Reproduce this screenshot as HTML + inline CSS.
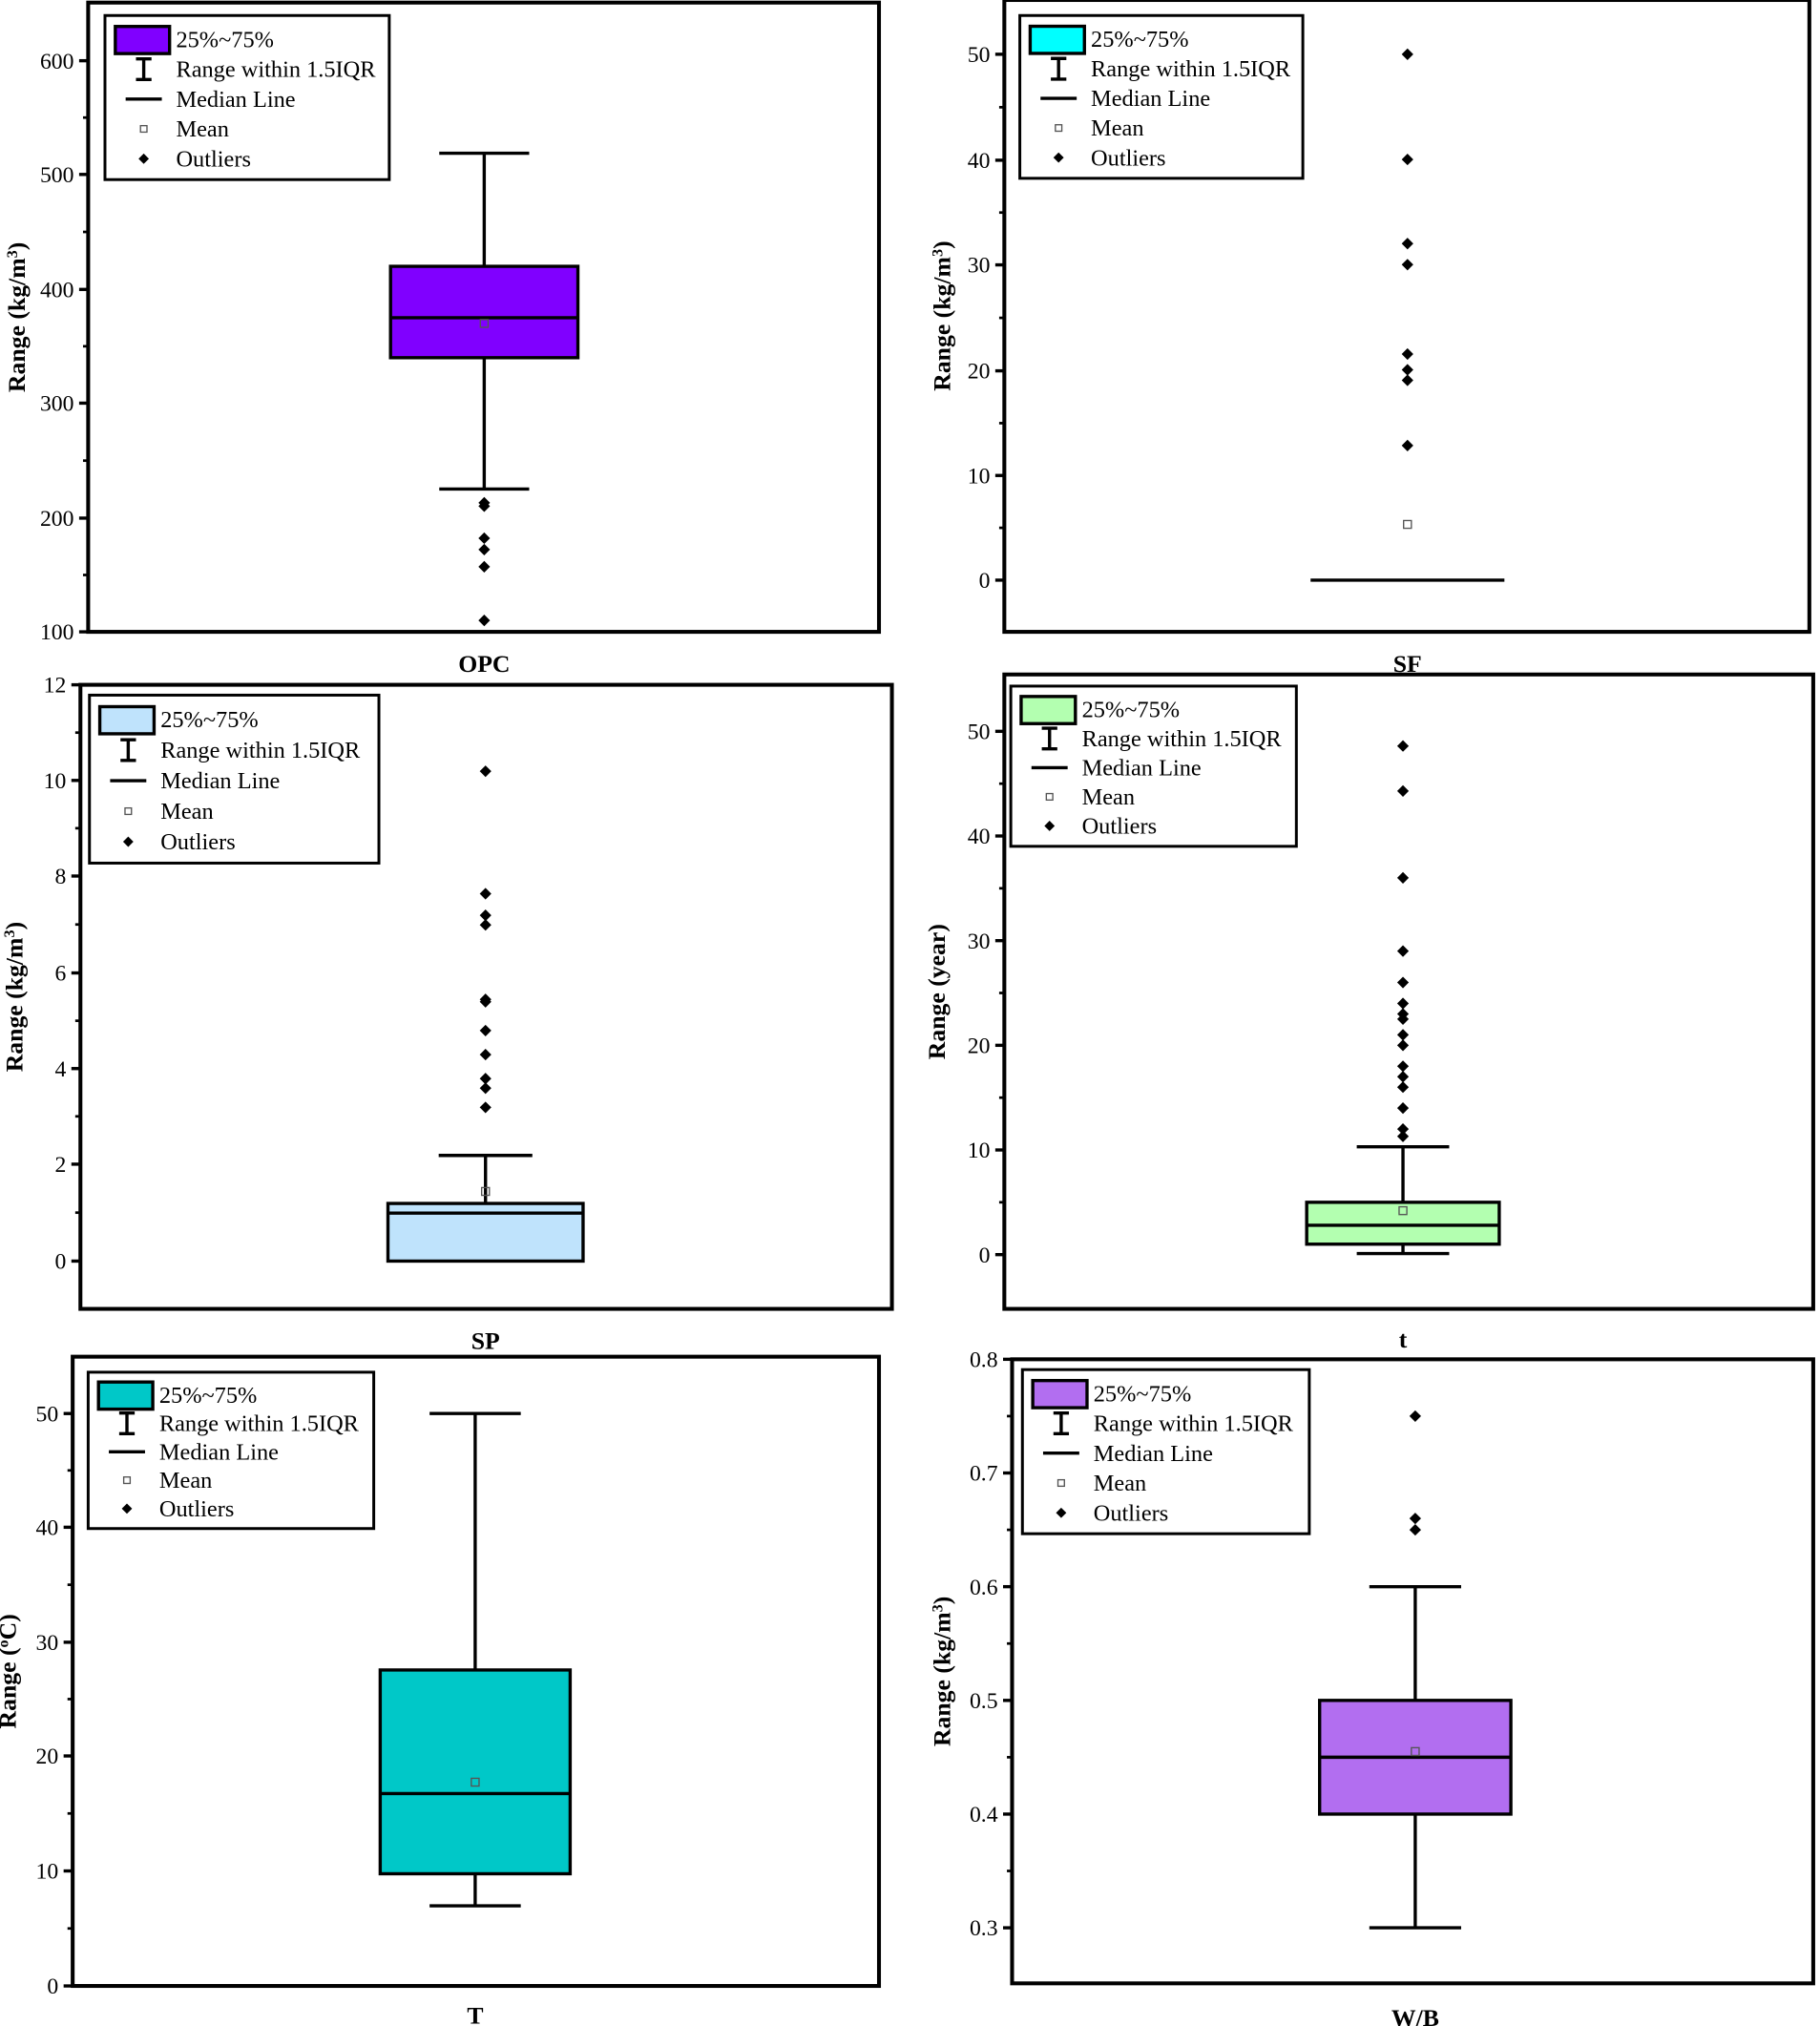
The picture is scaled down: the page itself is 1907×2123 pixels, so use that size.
<!DOCTYPE html>
<html><head><meta charset="utf-8"><style>
html,body{margin:0;padding:0;background:#fff}
svg{display:block}
text{font-family:"Liberation Serif",serif;fill:#000}
</style></head><body>
<svg id="s" width="1907" height="2123" viewBox="0 0 1408 1568" xmlns="http://www.w3.org/2000/svg"></svg>
<script>
const P=[
{x0:68,x1:680,y0:2,y1:489,ticks:[[600,47],[500,135],[400,224],[300,312],[200,401],[100,489]],color:"#8000ff",
 bx0:302,bx1:447,q1:340,q3:420,med:375,mean:370,wt:519,wb:225,out:[213,210,182,172,157,110],
 leg:[81,12,301,139],lab:"OPC",labY:520,yl:"kg",ylx:13},
{x0:777,x1:1400,y0:0,y1:489,ticks:[[50,42],[40,124],[30,205],[20,287],[10,368],[0,449]],color:"#00ffff",
 bx0:1014,bx1:1164,q1:0,q3:0,med:0,mean:5.3,wt:null,wb:null,out:[50,40,32,30,21.5,20,19,12.8],
 leg:[789,12,1008,138],lab:"SF",labY:520,yl:"kg",ylx:729},
{x0:62,x1:690,y0:530,y1:1013,ticks:[[12,530],[10,604],[8,678],[6,753],[4,827],[2,901],[0,976]],color:"#bfe3fc",
 bx0:300,bx1:451,q1:0,q3:1.2,med:1,mean:1.45,wt:2.2,wb:null,out:[10.2,7.65,7.2,7.0,5.45,5.4,4.8,4.3,3.8,3.6,3.2],
 leg:[69,538,293,668],lab:"SP",labY:1044,yl:"kg",ylx:11},
{x0:777,x1:1403,y0:522,y1:1013,ticks:[[50,566],[40,647],[30,728],[20,809],[10,890],[0,971]],color:"#b3ffb0",
 bx0:1011,bx1:1160,q1:1,q3:5,med:2.8,mean:4.2,wt:10.3,wb:0.1,out:[48.6,44.3,36,29,26,24,23,22.5,21,20,18,17,16,14,12,11.3],
 leg:[782,531,1003,655],lab:"t",labY:1043,yl:"year",ylx:725},
{x0:56,x1:680,y0:1050,y1:1537,ticks:[[50,1094],[40,1182],[30,1271],[20,1359],[10,1448],[0,1537]],color:"#00c8c8",
 bx0:294,bx1:441,q1:9.8,q3:27.6,med:16.8,mean:17.8,wt:50,wb:7,out:[],
 leg:[68,1062,289,1183],lab:"T",labY:1566,yl:"C",ylx:6},
{x0:783,x1:1403,y0:1052,y1:1535,ticks:[[0.8,1052],[0.7,1140],[0.6,1228],[0.5,1316],[0.4,1404],[0.3,1492]],color:"#b26ef0",
 bx0:1021,bx1:1169,q1:0.4,q3:0.5,med:0.45,mean:0.455,wt:0.6,wb:0.3,out:[0.75,0.66,0.65],
 leg:[791,1060,1013,1187],lab:"W/B",labY:1568,yl:"kg",ylx:729}
];
let h="";
for(const p of P){
 const t=p.ticks, v0=t[0][0],y0=t[0][1],v1=t[t.length-1][0],y1=t[t.length-1][1];
 const Y=v=>y0+(v-v0)*(y1-y0)/(v1-v0);
 const cx=(p.bx0+p.bx1)/2;
 for(let i=0;i<t.length;i++){
  h+=`<line x1="${p.x0-7}" x2="${p.x0}" y1="${t[i][1]}" y2="${t[i][1]}" stroke="#000" stroke-width="2.5"/>`;
  h+=`<text x="${p.x0-11}" y="${t[i][1]+6}" font-size="17.5" text-anchor="end">${t[i][0]}</text>`;
  if(i<t.length-1){const m=(t[i][1]+t[i+1][1])/2;h+=`<line x1="${p.x0-4}" x2="${p.x0}" y1="${m}" y2="${m}" stroke="#000" stroke-width="2"/>`;}
 }
 const cw=(p.bx1-p.bx0)*0.24;
 if(p.wt!=null){h+=`<line x1="${cx}" x2="${cx}" y1="${Y(p.wt)}" y2="${Y(p.q3)}" stroke="#000" stroke-width="2.5"/><line x1="${cx-cw}" x2="${cx+cw}" y1="${Y(p.wt)}" y2="${Y(p.wt)}" stroke="#000" stroke-width="2.5"/>`;}
 if(p.wb!=null){h+=`<line x1="${cx}" x2="${cx}" y1="${Y(p.wb)}" y2="${Y(p.q1)}" stroke="#000" stroke-width="2.5"/><line x1="${cx-cw}" x2="${cx+cw}" y1="${Y(p.wb)}" y2="${Y(p.wb)}" stroke="#000" stroke-width="2.5"/>`;}
 if(p.q3>p.q1) h+=`<rect x="${p.bx0}" y="${Y(p.q3)}" width="${p.bx1-p.bx0}" height="${Y(p.q1)-Y(p.q3)}" fill="${p.color}" stroke="#000" stroke-width="2.5"/>`;
 h+=`<line x1="${p.bx0}" x2="${p.bx1}" y1="${Y(p.med)}" y2="${Y(p.med)}" stroke="#000" stroke-width="2.5"/>`;
 h+=`<rect x="${cx-3}" y="${Y(p.mean)-3}" width="6" height="6" fill="none" stroke="#555" stroke-width="1"/>`;
 for(const o of p.out){const y=Y(o);h+=`<path d="M${cx} ${y-4.5}L${cx+4.5} ${y}L${cx} ${y+4.5}L${cx-4.5} ${y}Z" fill="#000"/>`;}
 h+=`<rect x="${p.x0}" y="${p.y0}" width="${p.x1-p.x0}" height="${p.y1-p.y0}" fill="none" stroke="#000" stroke-width="3"/>`;
 const [lx,ly,lx2,ly2]=p.leg, lh=(ly2-ly), rs=lh/5.5, ic=lx+30, tx=lx+55;
 h+=`<rect x="${lx}" y="${ly}" width="${lx2-lx}" height="${lh}" fill="#fff" stroke="#000" stroke-width="2.2"/>`;
 const r=i=>ly+rs*(i+0.8);
 h+=`<rect x="${lx+8}" y="${r(0)-10}" width="42" height="21" fill="${p.color}" stroke="#000" stroke-width="2.5"/>`;
 h+=`<line x1="${ic}" x2="${ic}" y1="${r(1)-8}" y2="${r(1)+8}" stroke="#000" stroke-width="2.5"/><line x1="${ic-6}" x2="${ic+6}" y1="${r(1)-8}" y2="${r(1)-8}" stroke="#000" stroke-width="2.5"/><line x1="${ic-6}" x2="${ic+6}" y1="${r(1)+8}" y2="${r(1)+8}" stroke="#000" stroke-width="2.5"/>`;
 h+=`<line x1="${ic-14}" x2="${ic+14}" y1="${r(2)}" y2="${r(2)}" stroke="#000" stroke-width="2.5"/>`;
 h+=`<rect x="${ic-2.5}" y="${r(3)-2.5}" width="5" height="5" fill="none" stroke="#555" stroke-width="1"/>`;
 h+=`<path d="M${ic} ${r(4)-4}L${ic+4} ${r(4)}L${ic} ${r(4)+4}L${ic-4} ${r(4)}Z" fill="#000"/>`;
 ["25%~75%","Range within 1.5IQR","Median Line","Mean","Outliers"].forEach((s,i)=>{h+=`<text x="${tx}" y="${r(i)+6}" font-size="18">${s}</text>`;});
 h+=`<text x="${cx}" y="${p.labY}" font-size="19" font-weight="bold" text-anchor="middle">${p.lab}</text>`;
 const cy=(p.y0+p.y1)/2;
 let yl = p.yl=="kg"?`Range (kg/m<tspan dy="-6" font-size="12">3</tspan><tspan dy="6">)</tspan>`:
   p.yl=="year"?`Range (year)`:`Range (<tspan dy="-6" font-size="12">o</tspan><tspan dy="6">C)</tspan>`;
 h+=`<text transform="translate(${p.ylx+6},${cy}) rotate(-90)" font-size="19" font-weight="bold" text-anchor="middle">${yl}</text>`;
}
document.getElementById("s").innerHTML=h;
</script>
</body></html>
